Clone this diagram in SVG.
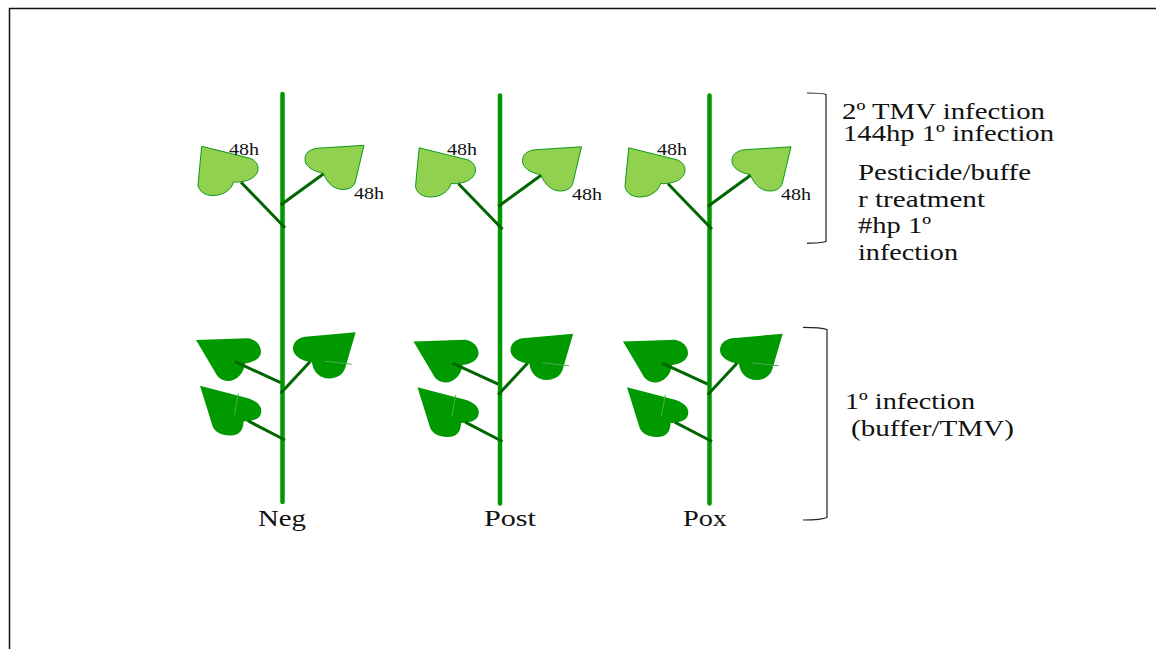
<svg xmlns="http://www.w3.org/2000/svg" width="1156" height="649" viewBox="0 0 1156 649">
<style>
text{font-family:"Liberation Serif","Times New Roman",serif;fill:#111}
.big{font-size:22.5px}
.side{font-size:23.5px}
.small{font-size:16px}
.stem{stroke:#009900;stroke-width:4.5;stroke-linecap:round;fill:none}
.branch{stroke:#006600;stroke-width:3;fill:none}
.young{fill:#92d050;stroke:#0d9a1a;stroke-width:1}
.old{fill:#009900}
.vein{stroke:#4fae4f;stroke-width:1;fill:none}
.bracket{stroke:#222;stroke-width:1.2;fill:none}
</style>
<defs>
<!-- Shared plant: stem, five branches, two young and three older leaves -->
<g id="plant-body">
<path class="young" d="M201.700 146.300L250 158.300C255 160 258 164 258 168.500C258 175 252 179.500 245 181C241 182 237 182.300 233.500 182C231.500 190 223 195.500 213 195.500C205 195.500 199 191.500 198 185Z"/>
<path class="young" d="M364 145.300L317 148.300C309 149.500 305 153.500 305 159.300C305 166 312 171 323.500 173.300C327 183 334 189.500 343 189.500C350 189.500 354.500 186 355.500 181Z"/>
<path class="old" d="M196 340L248 338.300C256 339.500 261 345.500 261 351.700C261 358 254 362.500 245 363.500C244 373 237 381 228 381C222 381 217.500 377.500 215 372Z"/>
<path class="old" d="M355.700 332.300L305 336.700C298 338 293 342 293 348.500C293 355 300 360.500 312 362.500C313 372 320 378.500 329 378.500C338 378.500 344 373.500 345.500 367Z"/>
<path class="old" d="M200 385.700L248 398.300C256 401 261.300 405 261.300 411C261.300 417.500 256 421 243.500 421.500C243.500 429.500 240 435.500 230 435.500C221 435.500 215 432 212.500 426Z"/>
<path class="vein" d="M238.300 393.300L234.300 415"/>
<path class="vein" d="M325 361.300L351.700 364.300"/>
<path class="stem" d="M282.500 94V502"/>
<path class="branch" d="M241 182.300L285 227.700"/>
<path class="branch" d="M323.300 174L280.700 205"/>
<path class="branch" d="M235 361.700L280.700 382.700"/>
<path class="branch" d="M310 361.700L280.700 393.300"/>
<path class="branch" d="M247.700 420.700L285 440"/>
</g>
</defs>
<rect width="1156" height="649" fill="#fff"/>
<path id="frame" d="M1156 8.500H9.500V649" fill="none" stroke="#111" stroke-width="1.500"/>
<g id="plant-neg">
<use href="#plant-body"/>
<text class="small" x="229" y="155" textLength="30" lengthAdjust="spacingAndGlyphs">48h</text>
<text class="small" x="354" y="199" textLength="30" lengthAdjust="spacingAndGlyphs">48h</text>
<text class="big" x="258" y="526" textLength="48" lengthAdjust="spacingAndGlyphs">Neg</text>
</g>
<g id="plant-post">
<use href="#plant-body" transform="translate(217.500 1.500)"/>
<text class="small" x="447" y="155" textLength="30" lengthAdjust="spacingAndGlyphs">48h</text>
<text class="small" x="572" y="200" textLength="30" lengthAdjust="spacingAndGlyphs">48h</text>
<text class="big" x="484" y="526" textLength="52" lengthAdjust="spacingAndGlyphs">Post</text>
</g>
<g id="plant-pox">
<use href="#plant-body" transform="translate(427 1.500)"/>
<text class="small" x="657" y="155" textLength="30" lengthAdjust="spacingAndGlyphs">48h</text>
<text class="small" x="781" y="200" textLength="30" lengthAdjust="spacingAndGlyphs">48h</text>
<text class="big" x="683" y="526" textLength="44" lengthAdjust="spacingAndGlyphs">Pox</text>
</g>
<g id="connectors">
<path class="bracket" d="M807 93C816 93 823 93 826 94.500V241.500C823 243 816 243 807 243.300"/>
<path class="bracket" d="M803 327.300C813 327.300 823 328 827 329.500V517.500C823 519.500 813 520 803 520"/>
</g>
<g id="label-upper">
<text class="side" x="842" y="119" textLength="203" lengthAdjust="spacingAndGlyphs">2º TMV infection</text>
<text class="side" x="843" y="141" textLength="211" lengthAdjust="spacingAndGlyphs">144hp 1º infection</text>
<text class="side" x="858" y="180" textLength="173" lengthAdjust="spacingAndGlyphs">Pesticide/buffe</text>
<text class="side" x="858" y="207" textLength="127" lengthAdjust="spacingAndGlyphs">r treatment</text>
<text class="side" x="858" y="233" textLength="73" lengthAdjust="spacingAndGlyphs">#hp 1º</text>
<text class="side" x="858" y="260" textLength="100" lengthAdjust="spacingAndGlyphs">infection</text>
</g>
<g id="label-lower">
<text class="side" x="845" y="409" textLength="130" lengthAdjust="spacingAndGlyphs">1º infection</text>
<text class="side" x="851" y="436" textLength="163" lengthAdjust="spacingAndGlyphs">(buffer/TMV)</text>
</g>
</svg>
